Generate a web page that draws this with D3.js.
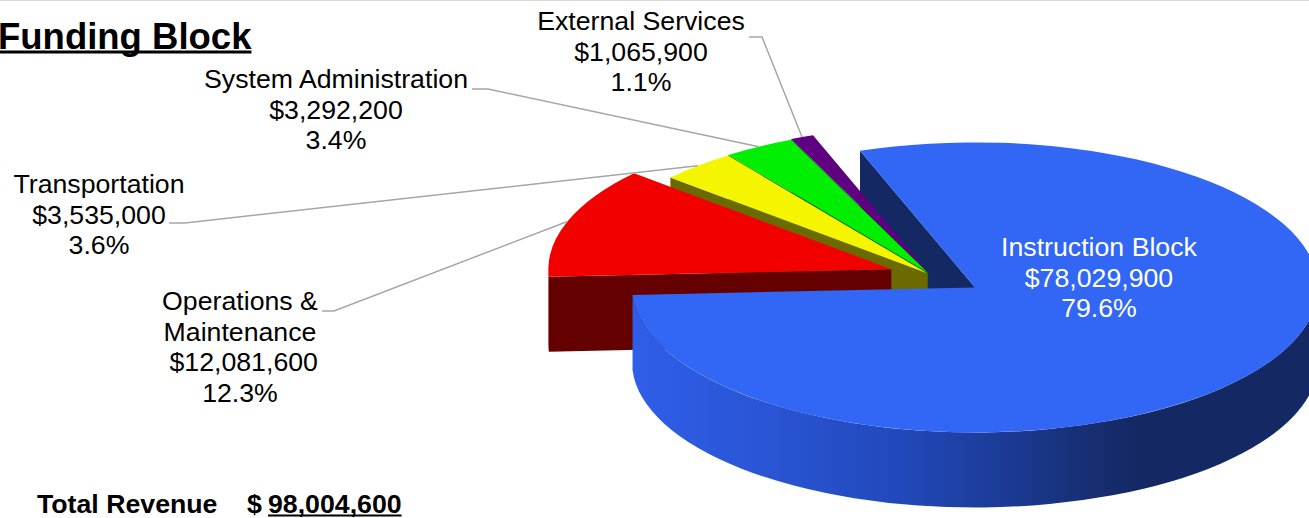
<!DOCTYPE html>
<html>
<head>
<meta charset="utf-8">
<script src="https://cdn.jsdelivr.net/npm/d3@7"></script>
<style>
  html, body { margin: 0; padding: 0; background: #fff; }
  svg { display: block; font-family: "Liberation Sans", Arial, sans-serif; }
</style>
</head>
<body>
<svg id="chart" width="1309" height="518"></svg>
<script>
// chart data
const categories = ["Instruction Block", "Operations & Maintenance", "Transportation", "System Administration", "External Services"];
const labelLines = [["Instruction Block"], ["Operations &", "Maintenance"], ["Transportation"], ["System Administration"], ["External Services"]];
const amounts = [78029900, 12081600, 3535000, 3292200, 1065900];
const title = "Funding Block";
const totalLabel = "Total Revenue";

// palette
const topColors = ["#3266f5", "#f20000", "#f5f500", "#00ee00", "#5f0080"];
const sideColors = ["#142864", "#640000", "#6a6a00", "#006400", "#3d0052"];

// layout
const width = 1309, height = 518;
const cx = 931, cy = 275, rx = 343, ry = 145, depth = 75;
const firstAngle = -19.6 * Math.PI / 180;
const explode = [53, 42, 5, 6, 8];
const labelPos = [[1099, 256], [240, 310], [99, 193], [336, 88], [641, 30]];
const leaderStart = [null, [322, 334, 311], [169, 185, 223], [472, 488, 89], [749, 762, 37]];
const lineH = 30.7;
const fontSize = 26.7;
const TAU = Math.PI * 2;

const svg = d3.select("#chart");
const topColor = d3.scaleOrdinal().domain(categories).range(topColors);
const sideColor = d3.scaleOrdinal().domain(categories).range(sideColors);
const money = d3.format("$,");
const pct = d3.format(".1%");
const total = d3.sum(amounts);

// faint frame line at the top
svg.append("line").attr("x1", 0).attr("x2", width).attr("y1", 0.5).attr("y2", 0.5)
    .attr("stroke", "#d9d9d9").attr("stroke-width", 1);

const defs = svg.append("defs");

const pie = d3.pie().sort(null).value(d => d)
    .startAngle(firstAngle).endAngle(firstAngle + TAU);

const arcs = pie(amounts).map((a, i) => {
    const mid = (a.startAngle + a.endAngle) / 2;
    return Object.assign({}, a, {
        i: i,
        name: categories[i],
        mid: mid,
        ox: cx + explode[i] * Math.sin(mid),
        oy: cy - explode[i] * Math.cos(mid) * ry / rx
    });
});

function pt(a, theta, dz) {
    return [a.ox + rx * Math.sin(theta), a.oy - ry * Math.cos(theta) + (dz || 0)];
}

function topPath(a) {
    const p0 = pt(a, a.startAngle), p1 = pt(a, a.endAngle);
    const large = a.endAngle - a.startAngle > Math.PI ? 1 : 0;
    return `M${a.ox},${a.oy}L${p0}A${rx},${ry} 0 ${large} 1 ${p1}Z`;
}

// front-facing part of the rim
function outerPaths(a) {
    const res = [];
    for (let k = -1; k <= 1; k++) {
        const lo = Math.max(a.startAngle, Math.PI / 2 + TAU * k);
        const hi = Math.min(a.endAngle, 3 * Math.PI / 2 + TAU * k);
        if (hi > lo) {
            const t0 = pt(a, lo), t1 = pt(a, hi), b1 = pt(a, hi, depth), b0 = pt(a, lo, depth);
            res.push(`M${t0}A${rx},${ry} 0 0 1 ${t1}L${b1}A${rx},${ry} 0 0 0 ${b0}Z`);
        }
    }
    return res;
}

function wallPath(a, t) {
    const p = pt(a, t), pb = pt(a, t, depth);
    return `M${a.ox},${a.oy}L${p}L${pb}L${a.ox},${a.oy + depth}Z`;
}

// shading for the big slice's rim
const blue = arcs[0];
const grad = defs.append("linearGradient").attr("id", "rim0")
    .attr("gradientUnits", "userSpaceOnUse")
    .attr("x1", blue.ox - rx).attr("x2", blue.ox + rx).attr("y1", 0).attr("y2", 0);
[[0.0, "#2f5ee8"], [0.19, "#2a55d5"], [0.39, "#2249bb"], [0.54, "#1c3b97"], [0.68, "#172d6f"], [0.74, "#142864"], [1, "#142864"]]
    .forEach(s => grad.append("stop").attr("offset", s[0]).attr("stop-color", s[1]));

const g = svg.append("g");

// radial walls, far ones first
const walls = [];
arcs.forEach(a => {
    const s = ((a.startAngle % TAU) + TAU) % TAU;
    if (s > Math.PI) walls.push({ a: a, theta: a.startAngle });
    const e = ((a.endAngle % TAU) + TAU) % TAU;
    if (e > 0 && e < Math.PI) walls.push({ a: a, theta: a.endAngle });
});
walls.sort((p, q) => -Math.cos(p.theta) + Math.cos(q.theta));

g.selectAll("path.wall").data(walls).enter().append("path")
    .attr("class", "wall")
    .attr("d", w => wallPath(w.a, w.theta))
    .attr("fill", w => sideColor(w.a.name));

// rims and tops, far slices first
const order = arcs.slice().sort((p, q) => -Math.cos(p.mid) + Math.cos(q.mid));
order.forEach(a => {
    outerPaths(a).forEach(d => {
        g.append("path").attr("d", d)
            .attr("fill", a.i === 0 ? "url(#rim0)" : sideColor(a.name));
    });
    g.append("path").attr("d", topPath(a)).attr("fill", topColor(a.name));
});

// leader lines
arcs.forEach(a => {
    const s = leaderStart[a.i];
    if (!s) return;
    const end = pt(a, a.mid);
    svg.append("path")
        .attr("d", `M${s[0]},${s[2]}L${s[1]},${s[2]}L${end}`)
        .attr("fill", "none").attr("stroke", "#a6a6a6").attr("stroke-width", 1.5);
});

// data labels
arcs.forEach(a => {
    const lines = labelLines[a.i].slice();
    lines.push((a.i === 1 ? "\u00a0" : "") + money(a.data));
    lines.push(pct(a.data / total));
    const t = svg.append("text")
        .attr("text-anchor", "middle")
        .attr("font-size", fontSize)
        .attr("fill", a.i === 0 ? "#ffffff" : "#000000");
    lines.forEach((ln, j) => {
        t.append("tspan").attr("x", labelPos[a.i][0]).attr("y", labelPos[a.i][1] + j * lineH).text(ln);
    });
});

// title, clipped at the left edge like the source
const titleX = -2;
const tt = svg.append("text").attr("x", titleX).attr("y", 49)
    .attr("font-size", 36.5).attr("font-weight", "bold").text(title);
const tw = tt.node().getComputedTextLength();
svg.append("rect").attr("x", 0).attr("y", 50.5).attr("width", titleX + tw).attr("height", 3).attr("fill", "#000");

// total
svg.append("text").attr("x", 37).attr("y", 512.5)
    .attr("font-size", fontSize).attr("font-weight", "bold").text(totalLabel);
svg.append("text").attr("x", 247).attr("y", 512.5)
    .attr("font-size", fontSize).attr("font-weight", "bold").text("$");
const tn = svg.append("text").attr("x", 268).attr("y", 512.5)
    .attr("font-size", fontSize).attr("font-weight", "bold").text(d3.format(",")(total));
svg.append("rect").attr("x", 268).attr("y", 514.5).attr("width", tn.node().getComputedTextLength()).attr("height", 2).attr("fill", "#000");
</script>
</body>
</html>
